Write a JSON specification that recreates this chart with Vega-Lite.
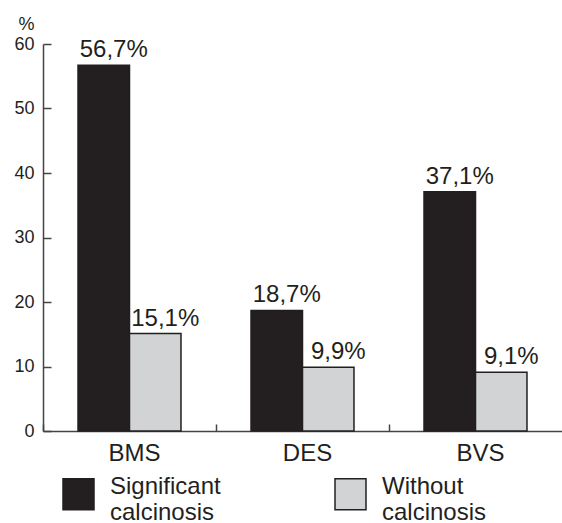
{
  "$schema": "https://vega.github.io/schema/vega-lite/v6.json",
  "width": 519,
  "height": 387,
  "autosize": {"type": "none"},
  "padding": {"left": 43, "top": 44, "right": 0, "bottom": 92},
  "background": "white",
  "config": {
    "view": {"stroke": null},
    "font": "Liberation Sans",
    "axis": {
      "domainColor": "#444444",
      "domainWidth": 1.5,
      "tickColor": "#444444",
      "tickWidth": 1.5,
      "labelColor": "#231f20",
      "grid": false
    }
  },
  "data": {
    "values": [
      {"stent": "BMS", "group": "Significant calcinosis", "value": 56.7},
      {"stent": "BMS", "group": "Without calcinosis", "value": 15.1},
      {"stent": "DES", "group": "Significant calcinosis", "value": 18.7},
      {"stent": "DES", "group": "Without calcinosis", "value": 9.9},
      {"stent": "BVS", "group": "Significant calcinosis", "value": 37.1},
      {"stent": "BVS", "group": "Without calcinosis", "value": 9.1}
    ]
  },
  "transform": [
    {"calculate": "replace(format(datum.value, '.1f'), '.', ',') + '%'", "as": "label"}
  ],
  "resolve": {"axis": {"x": "independent", "y": "independent"}},
  "layer": [
    {
      "mark": {"type": "bar", "stroke": "#231f20", "strokeWidth": 1.5},
      "encoding": {
        "x": {
          "field": "stent",
          "type": "nominal",
          "sort": ["BMS", "DES", "BVS"],
          "scale": {"paddingInner": 0, "paddingOuter": 0},
          "axis": {
            "orient": "bottom",
            "title": null,
            "ticks": false,
            "labelOffset": 5,
            "labelAngle": 0,
            "labelFontSize": 24,
            "labelPadding": 10
          }
        },
        "xOffset": {
          "field": "group",
          "type": "nominal",
          "sort": ["Significant calcinosis", "Without calcinosis"],
          "scale": {"paddingInner": 0, "paddingOuter": 0.68}
        },
        "y": {
          "field": "value",
          "type": "quantitative",
          "scale": {"domain": [0, 60]},
          "axis": {
            "orient": "left",
            "values": [0, 10, 20, 30, 40, 50, 60],
            "ticks": false,
            "labelPadding": 9,
            "labelFontSize": 18,
            "title": "%",
            "titleAngle": 0,
            "titleX": -17,
            "titleY": -15,
            "titleAlign": "center",
            "titleBaseline": "alphabetic",
            "titleFontSize": 18,
            "titleFontWeight": "normal",
            "titleColor": "#231f20"
          }
        },
        "fill": {
          "field": "group",
          "type": "nominal",
          "sort": ["Significant calcinosis", "Without calcinosis"],
          "scale": {"range": ["#231f20", "#d1d3d4"]},
          "legend": {
            "orient": "none",
            "legendX": 19,
            "legendY": 433.5,
            "direction": "horizontal",
            "columns": 2,
            "columnPadding": 111,
            "title": null,
            "padding": 0,
            "symbolType": "square",
            "symbolSize": 961,
            "symbolStrokeColor": "#231f20",
            "symbolStrokeWidth": 1.5,
            "labelFontSize": 24,
            "labelColor": "#231f20",
            "labelBaseline": "alphabetic",
            "labelOffset": 15,
            "labelLimit": 0,
            "labelExpr": "split(datum.label, ' ')"
          }
        }
      }
    },
    {
      "mark": {"type": "text", "baseline": "alphabetic", "dy": -8, "dx": 10, "fontSize": 24, "color": "#231f20"},
      "encoding": {
        "x": {
          "field": "stent",
          "type": "nominal",
          "sort": ["BMS", "DES", "BVS"],
          "scale": {"paddingInner": 0, "paddingOuter": 0},
          "axis": {
            "orient": "top",
            "offset": -387,
            "bandPosition": 0,
            "domain": false,
            "labels": false,
            "title": null,
            "ticks": true,
            "tickSize": 7
          }
        },
        "xOffset": {
          "field": "group",
          "type": "nominal",
          "sort": ["Significant calcinosis", "Without calcinosis"],
          "scale": {"paddingInner": 0, "paddingOuter": 0.68}
        },
        "y": {
          "field": "value",
          "type": "quantitative",
          "scale": {"domain": [0, 60]},
          "axis": {
            "orient": "right",
            "offset": -519,
            "values": [0, 10, 20, 30, 40, 50, 60],
            "domain": false,
            "labels": false,
            "title": null,
            "ticks": true,
            "tickSize": 8
          }
        },
        "text": {"field": "label"}
      }
    }
  ]
}
